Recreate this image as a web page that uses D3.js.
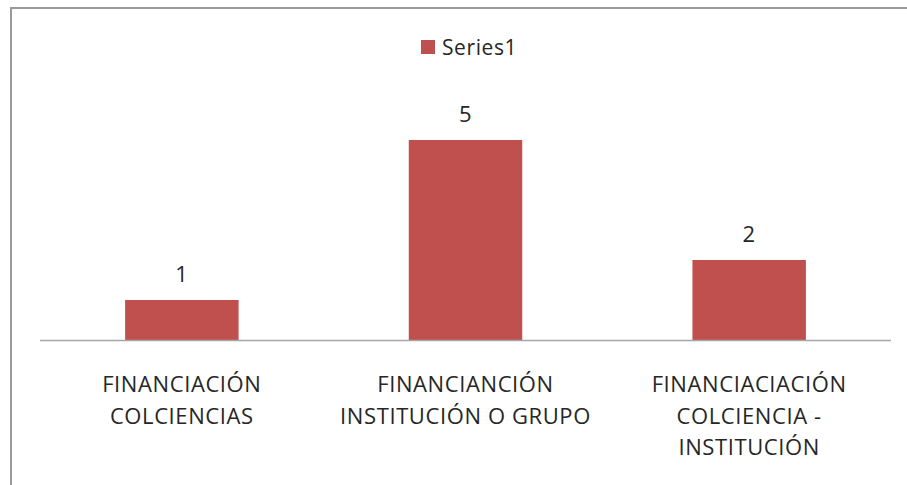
<!DOCTYPE html>
<html>
	<head>
		<meta http-equiv="Content-Type" content="text/html;charset=utf-8"/>
		<title>Series1</title>
		<script src="https://d3js.org/d3.v7.min.js"></script>
		<style type="text/css">
			body {
				margin: 0;
				background: #fff;
			}
			text {
				font-family: "Open Sans", "Noto Sans", sans-serif;
				fill: #262626;
				letter-spacing: 0.6px;
			}
			.bar {
				fill: #c0504d;
			}
		</style>
	</head>
	<body>
		<script type="text/javascript">

			//Chart data
			var categories = [
				"FINANCIACIÓN COLCIENCIAS",
				"FINANCIANCIÓN INSTITUCIÓN O GRUPO",
				"FINANCIACIACIÓN COLCIENCIA - INSTITUCIÓN"
			];
			var labelLines = [
				["FINANCIACIÓN", "COLCIENCIAS"],
				["FINANCIANCIÓN", "INSTITUCIÓN O GRUPO"],
				["FINANCIACIACIÓN", "COLCIENCIA -", "INSTITUCIÓN"]
			];
			var values = [1, 5, 2];
			var seriesName = "Series1";

			var w = 907,
				h = 485;

			var svg = d3.select("body").append("svg")
						.attr("width", w)
						.attr("height", h);

			//Chart frame
			svg.append("rect")
				.attr("x", 11)
				.attr("y", 8)
				.attr("width", w + 20)
				.attr("height", h + 20)
				.attr("fill", "#fff")
				.attr("stroke", "#9a9a9a")
				.attr("stroke-width", 2);

			//Scales
			var xScale = d3.scaleBand()
						.domain(categories)
						.range([40, 891])
						.paddingInner(0.6)
						.paddingOuter(0.3);

			var yScale = d3.scaleLinear()
						.domain([0, 5])
						.range([340, 140]);

			//Bars
			svg.selectAll("rect.bar")
				.data(values)
				.enter()
				.append("rect")
				.attr("class", "bar")
				.attr("x", function(d, i) { return xScale(categories[i]); })
				.attr("width", xScale.bandwidth())
				.attr("y", function(d) { return yScale(d); })
				.attr("height", function(d) { return yScale(0) - yScale(d); });

			//Value labels
			svg.selectAll("text.value")
				.data(values)
				.enter()
				.append("text")
				.attr("class", "value")
				.attr("x", function(d, i) { return xScale(categories[i]) + xScale.bandwidth() / 2; })
				.attr("y", function(d) { return yScale(d) - 18; })
				.attr("text-anchor", "middle")
				.style("font-size", "22px")
				.text(function(d) { return d; });

			//Category axis line
			svg.append("line")
				.attr("x1", 40)
				.attr("x2", 891)
				.attr("y1", yScale(0) + 0.5)
				.attr("y2", yScale(0) + 0.5)
				.attr("stroke", "#a6a6a6")
				.attr("stroke-width", 1.5);

			//Category labels
			svg.selectAll("text.cat")
				.data(categories)
				.enter()
				.append("text")
				.attr("class", "cat")
				.attr("text-anchor", "middle")
				.style("font-size", "22px")
				.each(function(d, i) {
					var t = d3.select(this);
					var cx = xScale(d) + xScale.bandwidth() / 2;
					labelLines[i].forEach(function(line, j) {
						t.append("tspan")
							.attr("x", cx)
							.attr("y", 392 + j * 31.7)
							.text(line);
					});
				});

			//Legend
			svg.append("rect")
				.attr("class", "bar")
				.attr("x", 421)
				.attr("y", 40)
				.attr("width", 14)
				.attr("height", 14);

			svg.append("text")
				.attr("x", 442)
				.attr("y", 55)
				.style("font-size", "21px")
				.text(seriesName);

		</script>
	</body>
</html>
